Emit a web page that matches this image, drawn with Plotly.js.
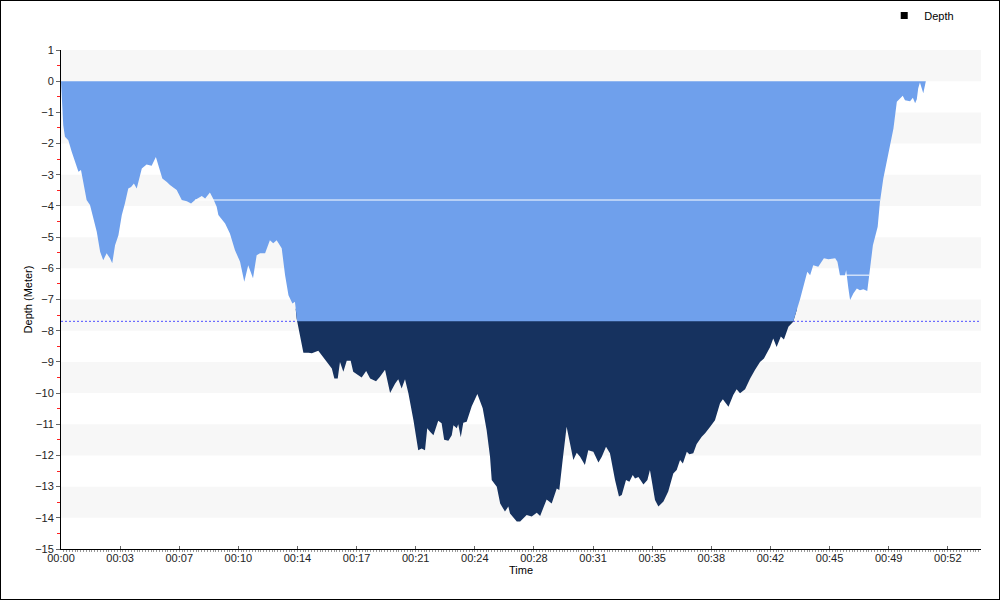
<!DOCTYPE html>
<html>
<head>
<meta charset="utf-8">
<script src="https://cdn.plot.ly/plotly-3.0.1.min.js"></script>
<style>
  html, body { margin: 0; padding: 0; background: #fff; }
  #chart { width: 998px; height: 598px; border: 1px solid #000; }
</style>
</head>
<body>
<div id="chart"></div>
<script>
// Dive profile: elapsed time (seconds) and depth (metres, negative = below surface)
const timeSec = [
  0, 2, 5, 8, 14, 26, 38, 56, 62, 71,
  79, 91, 103, 115, 127, 139, 150, 162, 174, 182,
  192, 204, 216, 227, 239, 249, 259, 269, 281, 287,
  304, 322, 337, 348, 360, 376, 387, 411, 429, 447,
  462, 476, 500, 512, 529, 541, 553, 559, 583, 600,
  618, 636, 651, 665, 682, 695, 707, 725, 742, 754,
  766, 784, 796, 808, 822, 831, 837, 849, 861, 879,
  891, 914, 932, 950, 962, 971, 983, 991, 1003, 1015,
  1029, 1038, 1056, 1068, 1084, 1098, 1119, 1133, 1151, 1169,
  1187, 1198, 1210, 1222, 1234, 1252, 1269, 1281, 1293, 1301,
  1311, 1323, 1340, 1352, 1361, 1376, 1388, 1394, 1406, 1411,
  1420, 1429, 1441, 1459, 1479, 1498, 1512, 1524, 1530, 1548,
  1560, 1577, 1589, 1595, 1619, 1631, 1654, 1672, 1690, 1702,
  1725, 1743, 1761, 1770, 1782, 1796, 1808, 1820, 1832, 1844,
  1861, 1873, 1891, 1909, 1921, 1936, 1950, 1968, 1982, 1992,
  2007, 2019, 2031, 2039, 2051, 2069, 2083, 2092, 2110, 2122,
  2140, 2157, 2175, 2187, 2199, 2209, 2223, 2232, 2246, 2258,
  2276, 2288, 2306, 2323, 2341, 2351, 2371, 2388, 2400, 2412,
  2430, 2448, 2465, 2483, 2497, 2519, 2530, 2542, 2557, 2568,
  2584, 2601, 2625, 2643, 2651, 2661, 2672, 2690, 2710, 2726,
  2750, 2758, 2767, 2785, 2789, 2797, 2803, 2815, 2827, 2838,
  2850, 2864, 2874, 2884, 2901, 2909, 2921, 2939, 2957, 2969,
  2980, 2990, 2998, 3016, 3026, 3034, 3040, 3045, 3051, 3058,
  3063, 3072
];
const depthM = [
  0, -0.3, -0.87, -1.41, -1.78, -1.89, -2.26, -2.69, -2.9, -2.85,
  -3.23, -3.81, -3.97, -4.4, -4.83, -5.47, -5.74, -5.52, -5.68, -5.84,
  -5.26, -4.94, -4.29, -3.92, -3.44, -3.39, -3.28, -3.44, -3.01, -2.8,
  -2.67, -2.71, -2.43, -2.8, -3.12, -3.23, -3.33, -3.49, -3.81, -3.85,
  -3.92, -3.81, -3.68, -3.76, -3.57, -3.78, -4.03, -4.29, -4.56, -4.88,
  -5.42, -5.79, -6.43, -5.9, -6.32, -5.58, -5.52, -5.52, -5.1, -5.2,
  -5.1, -5.36, -6.22, -6.86, -7.13, -7.07, -7.61, -8.19, -8.71, -8.71,
  -8.72, -8.64, -8.86, -9.05, -9.21, -9.53, -9.53, -9.0, -9.32, -8.96,
  -8.96, -9.32, -9.42, -9.5, -9.29, -9.53, -9.62, -9.48, -9.25, -10.0,
  -9.69, -9.56, -9.85, -9.56, -10.01, -10.87, -11.83, -11.78, -11.83, -11.13,
  -11.24, -11.35, -10.89, -10.97, -11.5, -11.53, -11.35, -11.03, -11.13, -11.0,
  -11.42, -10.95, -10.92, -10.42, -10.03, -10.49, -11.19, -12.04, -12.79, -13.0,
  -13.54, -13.8, -13.64, -13.86, -14.12, -14.12, -13.91, -13.96, -13.84, -13.94,
  -13.41, -13.54, -13.06, -13.11, -12.15, -11.08, -11.61, -12.15, -11.91, -12.04,
  -12.31, -11.83, -11.88, -12.23, -12.04, -11.72, -11.93, -12.79, -13.32, -13.27,
  -12.79, -12.84, -12.63, -12.74, -12.69, -12.93, -12.79, -12.47, -13.43, -13.64,
  -13.48, -13.16, -12.58, -12.47, -12.15, -12.26, -11.88, -11.96, -11.93, -11.63,
  -11.4, -11.29, -11.08, -10.87, -10.33, -10.2, -10.44, -10.06, -9.88, -10.01,
  -9.88, -9.53, -9.26, -9.0, -8.89, -8.52, -8.25, -8.52, -8.19, -8.28,
  -7.87, -7.71, -7.0, -6.43, -6.11, -6.22, -5.9, -5.95, -5.68, -5.71,
  -5.68, -5.79, -6.22, -6.22, -6.06, -6.65, -7.02, -6.8, -6.65, -6.7,
  -6.67, -6.73, -6.0, -5.26, -4.67, -3.87, -3.12, -2.37, -1.52, -0.66,
  -0.56, -0.47, -0.61, -0.64, -0.53, -0.71, -0.58, -0.23, -0.04, -0.29,
  -0.39, 0
];
// Reference depth line (metres)
const thresholdDepth = -7.7;
// Horizontal seams visible inside the filled area
const seamStartSec = [476, 2789];
const seamEndSec = [2909, 2871];
const seamDepth = [-3.81, -6.22];
// Axis extent
const axisEndSec = 3268;
const yMin = -15, yMax = 1;

const LIGHT = '#6fa0ec';
const NAVY = '#16325f';

// seconds -> date string on a fixed day (date axis gives HH:MM tick labels)
const pad2 = n => String(n).padStart(2, '0');
function toDate(sec) {
  const whole = Math.floor(sec);
  const ms = Math.round((sec - whole) * 1000);
  const h = Math.floor(whole / 3600), m = Math.floor((whole % 3600) / 60), s = whole % 60;
  return '2000-01-01 ' + pad2(h) + ':' + pad2(m) + ':' + pad2(s) + '.' + String(ms).padStart(3, '0');
}

// Build a closed polygon of the profile clipped at level `lvl`
// (keep = Math.max -> part above lvl, closed at the surface;
//  keep = Math.min -> part below lvl, closed at lvl)
function clipped(lvl, keep, closeAt) {
  const xs = [], ys = [];
  for (let i = 0; i < timeSec.length; i++) {
    if (i > 0) {
      const a = depthM[i - 1] - lvl, b = depthM[i] - lvl;
      if (a * b < 0) {
        const f = a / (a - b);
        xs.push(toDate(timeSec[i - 1] + f * (timeSec[i] - timeSec[i - 1])));
        ys.push(lvl);
      }
    }
    xs.push(toDate(timeSec[i]));
    ys.push(keep(depthM[i], lvl));
  }
  xs.push(toDate(timeSec[timeSec.length - 1]), toDate(timeSec[0]));
  ys.push(closeAt, closeAt);
  return { xs, ys };
}

// Deep part (navy) starts a little above the threshold so the light layer overlaps it
const overlapLvl = thresholdDepth + 0.4;
const deep = clipped(overlapLvl, Math.min, overlapLvl);
const shallow = clipped(thresholdDepth, Math.max, 0);

const seamX = [], seamY = [];
for (let i = 0; i < seamDepth.length; i++) {
  seamX.push(toDate(seamStartSec[i]), toDate(seamEndSec[i]), null);
  seamY.push(seamDepth[i], seamDepth[i], null);
}

const traces = [
  { x: deep.xs, y: deep.ys, type: 'scatter', mode: 'lines', fill: 'toself',
    line: { width: 0, color: NAVY }, fillcolor: NAVY, showlegend: false, hoverinfo: 'skip' },
  { x: shallow.xs, y: shallow.ys, type: 'scatter', mode: 'lines', fill: 'toself',
    line: { width: 0, color: LIGHT }, fillcolor: LIGHT, showlegend: false, hoverinfo: 'skip' },
  { x: seamX, y: seamY, type: 'scatter', mode: 'lines',
    line: { color: '#ffffff', width: 1 }, showlegend: false, hoverinfo: 'skip' },
  { x: [null], y: [null], type: 'scatter', mode: 'markers', name: 'Depth',
    marker: { symbol: 'square', size: 7, color: '#000000' } }
];

const shapes = [];
for (let k = 0; k > yMin; k -= 2) {
  shapes.push({ type: 'rect', xref: 'paper', yref: 'y', x0: 0, x1: 1,
    y0: k, y1: k + 1, fillcolor: '#f7f7f7', line: { width: 0 }, layer: 'below' });
}
shapes.push({ type: 'line', xref: 'paper', yref: 'y', x0: 0, x1: 1,
  y0: thresholdDepth, y1: thresholdDepth, layer: 'below',
  line: { color: '#5050ff', width: 1, dash: '2px,2px' } });

const font = { family: 'Liberation Sans, Arial, sans-serif', size: 11, color: '#222' };

const layout = {
  width: 998, height: 598,
  margin: { l: 60, r: 18, t: 49, b: 50, autoexpand: false },
  paper_bgcolor: '#ffffff', plot_bgcolor: '#ffffff',
  font: font,
  showlegend: true,
  legend: { xref: 'container', yref: 'container', x: 0.885, y: 1.0,
    xanchor: 'left', yanchor: 'top',
    font: { family: font.family, size: 11, color: '#000' }, bgcolor: 'rgba(0,0,0,0)' },
  xaxis: {
    type: 'date', range: [toDate(0), toDate(axisEndSec)],
    tick0: toDate(0), dtick: 210000, tickformat: '%H:%M',
    showgrid: false, zeroline: false,
    showline: true, linecolor: '#000', linewidth: 1,
    ticks: 'inside', ticklen: 3, tickcolor: '#666',
    ticklabelstandoff: -1,
    minor: { dtick: 10000, ticks: 'outside', ticklen: 2, tickcolor: '#999', showgrid: false },
    title: { text: 'Time', font: { family: font.family, size: 11, color: '#000' }, standoff: 0 },
    tickfont: { family: font.family, size: 11, color: '#222' },
    fixedrange: true
  },
  yaxis: {
    range: [yMin, yMax], dtick: 1, tick0: 0,
    showgrid: false, zeroline: false,
    showline: true, linecolor: '#000', linewidth: 1,
    ticks: 'outside', ticklen: 4, tickcolor: '#666',
    minor: { dtick: 0.5, ticks: 'outside', ticklen: 3, tickcolor: '#ff2020', showgrid: false },
    title: { text: 'Depth (Meter)', font: { family: font.family, size: 11, color: '#000' }, standoff: 0 },
    tickfont: { family: font.family, size: 11, color: '#222' },
    fixedrange: true
  },
  shapes: shapes
};

Plotly.newPlot('chart', traces, layout, { staticPlot: true, displayModeBar: false });
</script>
</body>
</html>
